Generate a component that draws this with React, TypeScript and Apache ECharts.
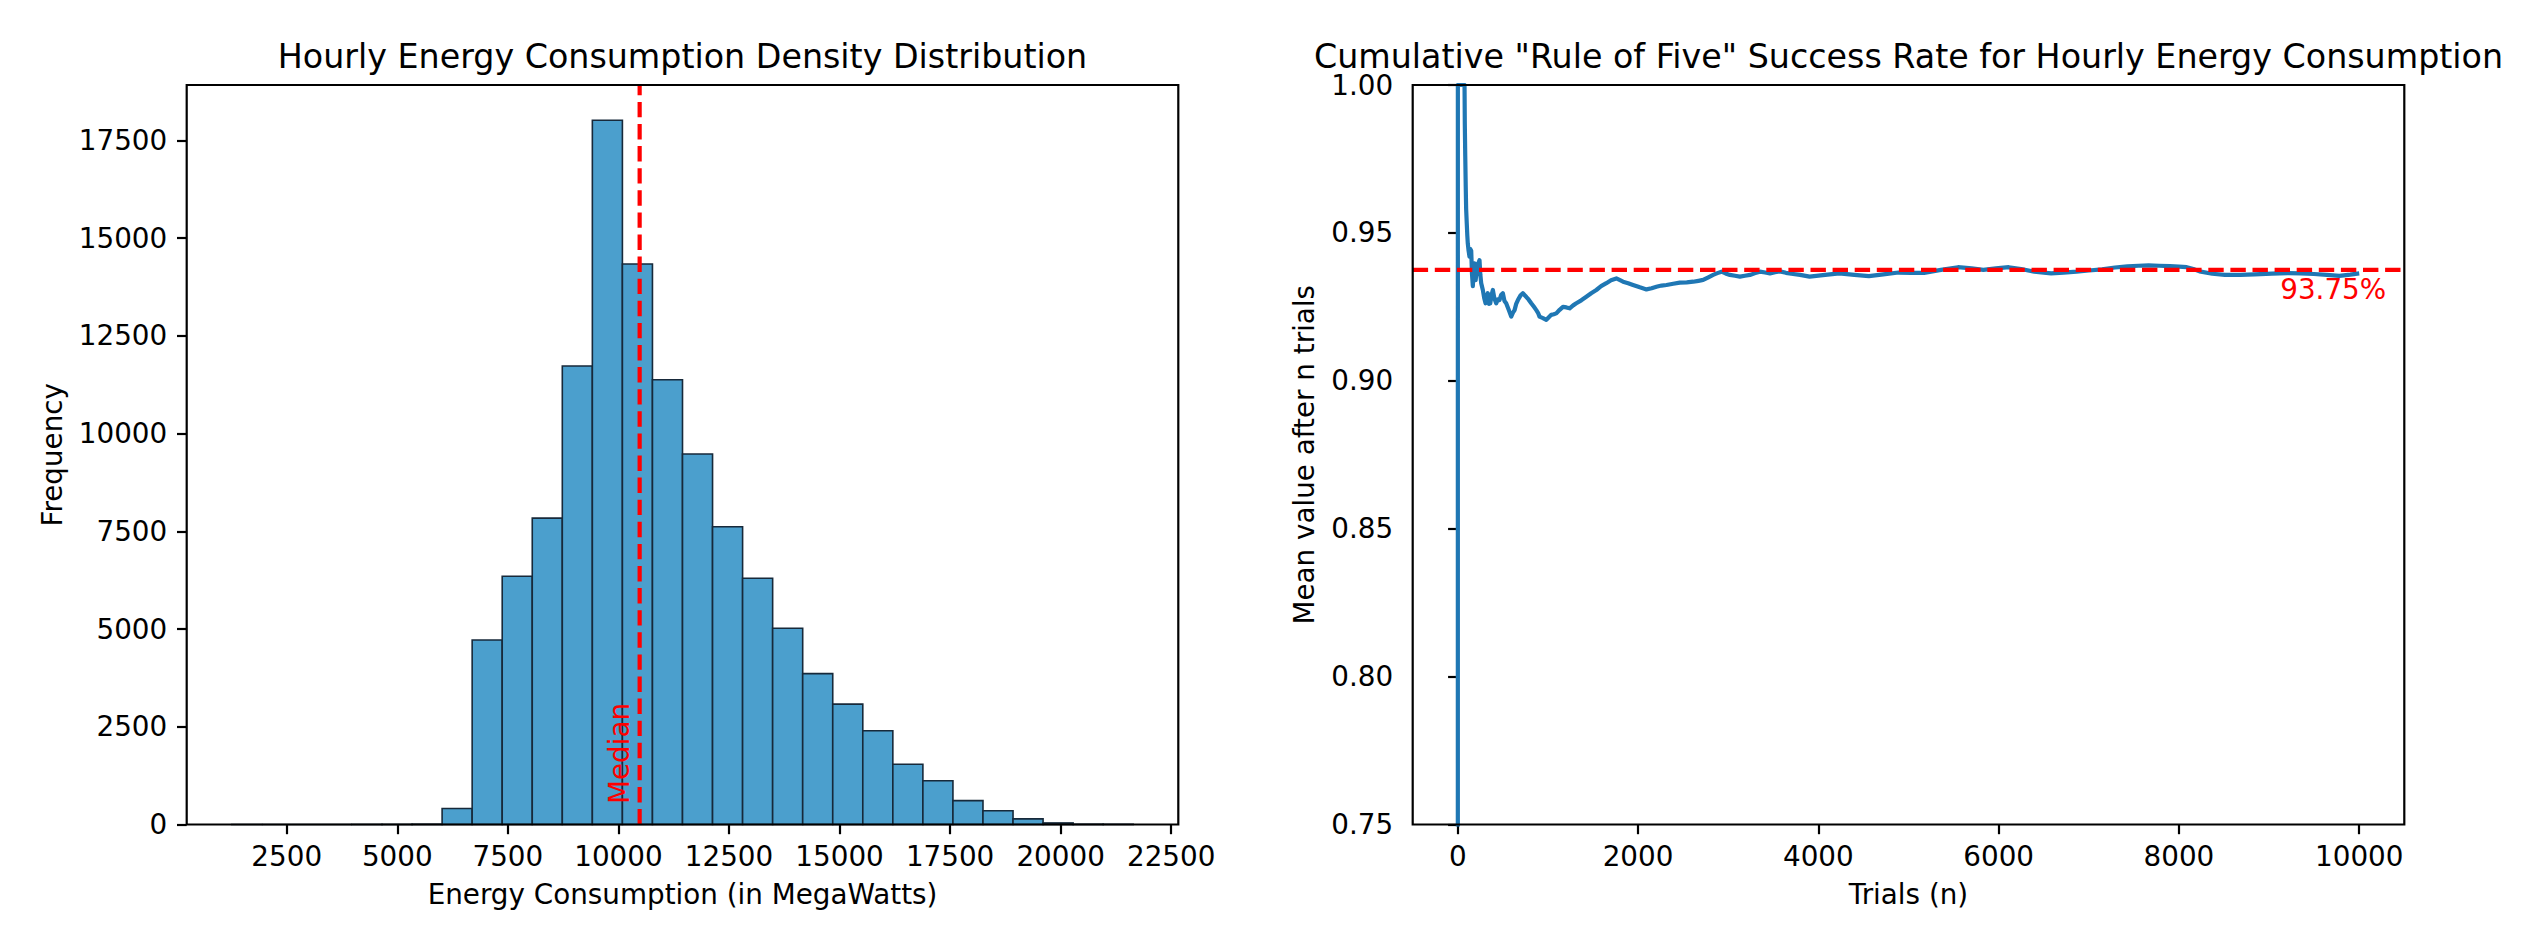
import React, { useEffect, useRef } from "react";
import * as echarts from "echarts";

// ---------- Left panel: histogram of hourly energy consumption ----------
const HIST_MIN = 1257;
const HIST_MAX = 21641;
const HIST_COUNTS = [
  1, 0, 0, 0, 2, 3, 8, 410, 4720, 6350,
  7840, 11730, 18020, 14340, 11380, 9480, 7620, 6300, 5020, 3860,
  3080, 2400, 1540, 1120, 610, 350, 145, 40, 8, 2,
];
const MEDIAN_MW = 10480;
const HIST_X_TICKS = [2500, 5000, 7500, 10000, 12500, 15000, 17500, 20000, 22500];
const HIST_Y_TICKS = [0, 2500, 5000, 7500, 10000, 12500, 15000, 17500];

// ---------- Right panel: cumulative "Rule of Five" success rate ----------
const TRIALS = [
  0, 1, 75, 78, 83, 88, 93, 100, 106, 111,
  120, 130, 140, 149, 158, 167, 176, 186, 198, 211,
  225, 241, 250, 260, 278, 293, 308, 320, 333, 346,
  360, 375, 389, 405, 426, 445, 463, 480, 500, 518,
  537, 565, 593, 612, 630, 648, 667, 695, 722, 740,
  759, 785, 815, 845, 871, 890, 907, 945, 982, 1010,
  1037, 1065, 1093, 1130, 1167, 1205, 1241, 1280, 1315, 1370,
  1426, 1480, 1537, 1590, 1648, 1700, 1759, 1800, 1833, 1890,
  1944, 2020, 2093, 2150, 2204, 2260, 2315, 2390, 2463, 2540,
  2611, 2670, 2722, 2780, 2833, 2880, 2926, 2970, 3019, 3075,
  3130, 3185, 3241, 3300, 3352, 3410, 3463, 3520, 3574, 3640,
  3700, 3797, 3903, 4050, 4232, 4400, 4561, 4720, 4890, 5030,
  5172, 5360, 5549, 5700, 5830, 5970, 6112, 6250, 6394, 6582,
  6720, 6864, 7000, 7147, 7290, 7429, 7550, 7663, 7780, 7899,
  8000, 8087, 8160, 8228, 8370, 8510, 8680, 8839, 9030, 9214,
  9350, 9497, 9640, 9779, 9900, 10000,
];
const MEAN_VALUES = [
  0.0, 1.0, 1.0, 0.987, 0.976, 0.966, 0.958, 0.953, 0.949, 0.9465,
  0.944, 0.942, 0.9445, 0.944, 0.936, 0.932, 0.938, 0.9397, 0.934, 0.9375,
  0.9395, 0.9408, 0.936, 0.933, 0.9307, 0.928, 0.9262, 0.9285, 0.9296, 0.926,
  0.9262, 0.929, 0.9307, 0.928, 0.9262, 0.9275, 0.9273, 0.929, 0.9296, 0.927,
  0.9262, 0.924, 0.9217, 0.923, 0.9239, 0.926, 0.9273, 0.9288, 0.9296, 0.929,
  0.9284, 0.9275, 0.9262, 0.925, 0.9239, 0.923, 0.9217, 0.9212, 0.9206, 0.9215,
  0.9223, 0.9225, 0.9228, 0.924, 0.925, 0.9248, 0.9245, 0.9255, 0.9262, 0.9272,
  0.9284, 0.9296, 0.9307, 0.932, 0.933, 0.934, 0.9346, 0.934, 0.9335, 0.933,
  0.9324, 0.9316, 0.9309, 0.9313, 0.9318, 0.9322, 0.9324, 0.9328, 0.9332, 0.9333,
  0.9335, 0.9338, 0.9341, 0.935, 0.9358, 0.9364, 0.9369, 0.9363, 0.9358, 0.9355,
  0.9352, 0.9355, 0.9358, 0.9364, 0.9369, 0.9366, 0.9363, 0.9367, 0.937, 0.9365,
  0.9362, 0.9358, 0.9352, 0.9357, 0.9363, 0.9358, 0.9354, 0.936, 0.9366, 0.9365,
  0.9365, 0.9375, 0.9384, 0.938, 0.9375, 0.938, 0.9384, 0.9378, 0.9369, 0.9363,
  0.9366, 0.9369, 0.9373, 0.9377, 0.9383, 0.9387, 0.9389, 0.939, 0.9389, 0.9388,
  0.9386, 0.9384, 0.9378, 0.937, 0.9362, 0.9358, 0.9358, 0.936, 0.9362, 0.9364,
  0.9363, 0.9361, 0.9358, 0.9355, 0.9359, 0.9363,
];
const TARGET_RATE = 0.9375;
const TARGET_LABEL = "93.75%";
const RATE_X_TICKS = [0, 2000, 4000, 6000, 8000, 10000];
const RATE_Y_TICKS = [0.75, 0.8, 0.85, 0.9, 0.95, 1.0];

const LEFT_TITLE = "Hourly Energy Consumption Density Distribution";
const RIGHT_TITLE = 'Cumulative "Rule of Five" Success Rate for Hourly Energy Consumption';
const LEFT_XLABEL = "Energy Consumption (in MegaWatts)";
const LEFT_YLABEL = "Frequency";
const RIGHT_XLABEL = "Trials (n)";
const RIGHT_YLABEL = "Mean value after n trials";
const MEDIAN_LABEL = "Median";

// ---------- layout / style ----------
const W = 2539;
const H = 950;
const FONT = "'DejaVu Sans', 'Noto Sans', sans-serif";
const TICK_FS = 27.8;
const TITLE_FS = 33.3;
const GRID_TOP = 85;
const GRID_H = 739.5;
const GRID_W = 991.6;
const LEFT_X = 186.7;
const RIGHT_X = 1412.7;
const BAR_FILL = "#4b9fcd";
const BAR_EDGE = "#17293a";
const LINE_BLUE = "#1f77b4";
const RED = "#ff0000";
const LW = 4.2;
const DASH = [15.4, 6.7];

function makeAxis(idx: number, min: number, max: number, ticks: number[], fmt: (v: number) => string, margin: number) {
  return {
    type: "value",
    gridIndex: idx,
    min,
    max,
    axisLine: { show: false },
    axisTick: {
      show: true,
      inside: false,
      length: 9.7,
      lineStyle: { color: "#000", width: 2.2 },
      customValues: ticks,
    },
    axisLabel: {
      show: true,
      margin,
      fontSize: TICK_FS,
      lineHeight: 24,
      fontFamily: FONT,
      color: "#000",
      customValues: ticks,
      formatter: (v: number) => fmt(v),
    },
    splitLine: { show: false },
    minorTick: { show: false },
  };
}

export default function App() {
  const ref = useRef<HTMLDivElement>(null);

  useEffect(() => {
    if (!ref.current) return;
    const chart = echarts.init(ref.current, undefined, { renderer: "svg", width: W, height: H });

    const nBins = HIST_COUNTS.length;
    const binW = (HIST_MAX - HIST_MIN) / nBins;
    const histData = HIST_COUNTS.map((c, i) => [HIST_MIN + i * binW, HIST_MIN + (i + 1) * binW, c]);
    const span = HIST_MAX - HIST_MIN;
    const lxMin = HIST_MIN - 0.05 * span;
    const lxMax = HIST_MAX + 0.05 * span;
    const lyMax = Math.max(...HIST_COUNTS) * 1.05;

    const nMax = TRIALS[TRIALS.length - 1];
    const rxMin = -0.05 * nMax;
    const rxMax = nMax * 1.05;
    const rateData = TRIALS.map((t, i) => [t, MEAN_VALUES[i]]);

    const option: any = {
      animation: false,
      backgroundColor: "#ffffff",
      textStyle: { fontFamily: FONT },
      grid: [
        { left: LEFT_X, top: GRID_TOP, width: GRID_W, height: GRID_H, containLabel: false, outerBoundsMode: "none" },
        { left: RIGHT_X, top: GRID_TOP, width: GRID_W, height: GRID_H, containLabel: false, outerBoundsMode: "none" },
      ],
      xAxis: [
        makeAxis(0, lxMin, lxMax, HIST_X_TICKS, (v) => String(v), 20),
        makeAxis(1, rxMin, rxMax, RATE_X_TICKS, (v) => String(v), 20),
      ],
      yAxis: [
        makeAxis(0, 0, lyMax, HIST_Y_TICKS, (v) => String(v), 19.5),
        makeAxis(1, 0.75, 1.0, RATE_Y_TICKS, (v) => v.toFixed(2), 19.5),
      ],
      series: [
        {
          type: "custom",
          xAxisIndex: 0,
          yAxisIndex: 0,
          data: histData,
          encode: { x: [0, 1], y: 2 },
          z: 2,
          renderItem: (params: any, api: any) => {
            const p0 = api.coord([api.value(0), api.value(2)]);
            const p1 = api.coord([api.value(1), 0]);
            return {
              type: "rect",
              shape: { x: p0[0], y: p0[1], width: p1[0] - p0[0], height: p1[1] - p0[1] },
              style: { fill: BAR_FILL, stroke: BAR_EDGE, lineWidth: 1.6 },
            };
          },
        },
        {
          type: "line",
          xAxisIndex: 0,
          yAxisIndex: 0,
          data: [
            [MEDIAN_MW, 0],
            [MEDIAN_MW, lyMax],
          ],
          symbol: "none",
          z: 4,
          lineStyle: { color: RED, width: LW, type: DASH },
        },
        {
          type: "line",
          xAxisIndex: 1,
          yAxisIndex: 1,
          data: rateData,
          symbol: "none",
          clip: true,
          z: 3,
          lineStyle: { color: LINE_BLUE, width: LW, join: "round" },
        },
        {
          type: "line",
          xAxisIndex: 1,
          yAxisIndex: 1,
          data: [
            [rxMin, TARGET_RATE],
            [rxMax, TARGET_RATE],
          ],
          symbol: "none",
          z: 4,
          lineStyle: { color: RED, width: LW, type: DASH },
        },
      ],
    };
    chart.setOption(option);

    const med = chart.convertToPixel({ xAxisIndex: 0, yAxisIndex: 0 } as any, [MEDIAN_MW, 0]) as number[];
    const tgt = chart.convertToPixel({ xAxisIndex: 1, yAxisIndex: 1 } as any, [nMax, TARGET_RATE]) as number[];

    const txt = (
      text: string,
      x: number,
      y: number,
      fs: number,
      fill: string,
      align: string,
      rotation = 0,
      lineHeight?: number
    ) => ({
      type: "text",
      x,
      y,
      rotation,
      z: 60,
      silent: true,
      style: {
        text,
        fontSize: fs,
        fontFamily: FONT,
        fill,
        align,
        verticalAlign: "middle",
        ...(lineHeight ? { lineHeight } : {}),
      },
    });

    const frame = (x: number) => ({
      type: "rect",
      z: 50,
      silent: true,
      shape: { x, y: GRID_TOP, width: GRID_W, height: GRID_H },
      style: { fill: "none", stroke: "#000", lineWidth: 2.2 },
    });

    chart.setOption({
      graphic: [
        frame(LEFT_X),
        frame(RIGHT_X),
        txt(LEFT_TITLE, LEFT_X + GRID_W / 2, 56.8, TITLE_FS, "#000", "center", 0, 28),
        txt(RIGHT_TITLE, RIGHT_X + GRID_W / 2, 56.8, TITLE_FS, "#000", "center", 0, 28),
        txt(LEFT_XLABEL, LEFT_X + GRID_W / 2, 894.7, TICK_FS, "#000", "center"),
        txt(RIGHT_XLABEL, RIGHT_X + GRID_W / 2, 894.7, TICK_FS, "#000", "center"),
        txt(LEFT_YLABEL, 52.5, GRID_TOP + GRID_H / 2, TICK_FS, "#000", "center", Math.PI / 2),
        txt(RIGHT_YLABEL, 1304.4, GRID_TOP + GRID_H / 2, TICK_FS, "#000", "center", Math.PI / 2),
        txt(MEDIAN_LABEL, med[0] - 20.6, med[1] - 20.5, TICK_FS, RED, "left", Math.PI / 2),
        txt(TARGET_LABEL, tgt[0] + 27, tgt[1] + 20, TICK_FS, RED, "right"),
      ],
    });

    return () => {
      chart.dispose();
    };
  }, []);

  return (
    <div
      ref={ref}
      style={{ position: "fixed", left: 0, top: 0, width: W, height: H, background: "#ffffff" }}
    />
  );
}
